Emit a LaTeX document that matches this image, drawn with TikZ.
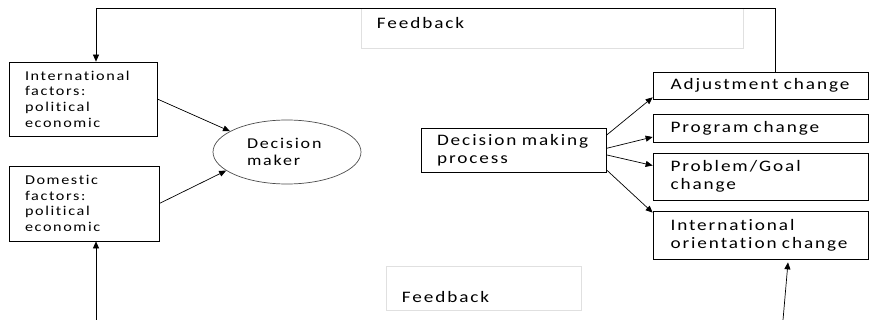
\documentclass[tikz,border=0pt]{standalone}
\usepackage{fontspec}
\setmainfont{Carlito}[FakeStretch=1.2,LetterSpace=12,Ligatures=NoCommon]
\usetikzlibrary{calc,arrows.meta,shapes.geometric}
\tikzset{font=\fontsize{16}{18.3}\selectfont}

\begin{document}
\begin{tikzpicture}[x=1pt,y=-1pt]
	\useasboundingbox (0,0) rectangle (869,320);
	\begin{scope}
		\tikzstyle{every node}=[align=left, inner xsep=16pt, inner ysep=0pt]
		\tikzstyle{box}=[draw, line width=0.7pt]
		\tikzstyle{small}=[font=\fontsize{13.5}{15.7}\selectfont]
		\tikzstyle{fb}=[draw=black!12, line width=0.6pt]
		\tikzstyle{arr}=[-{Triangle[length=7pt,width=6pt]}, line width=0.7pt]

		% feedback labels
		\node[fb, minimum width=382, minimum height=40,
			label={[anchor=base west, inner sep=0pt, xshift=16pt, yshift=-20.5pt]north west:Feedback}] (fbtop) at (552,28) {};
		\node[fb, minimum width=195, minimum height=44,
			label={[anchor=base west, inner sep=0pt, xshift=16pt, yshift=8pt]south west:Feedback}] (fbbot) at (483.5,288) {};

		\node[box, small, minimum width=148, minimum height=74, text width=116] (intl) at (83,99) {International\\factors:\\political\\economic};
		\node[box, small, minimum width=150, minimum height=75, text width=118] (dom) at (84,203.5) {Domestic\\factors:\\political\\economic};
		\node[draw=black!70, ellipse, line width=0.7pt, inner sep=0pt, minimum width=148, minimum height=64, text width=80,
			font=\fontsize{15}{17}\selectfont] (dm) at (287,152) {Decision\\maker};
		\node[box, minimum width=185, minimum height=44, text width=153] (dmp) at (513.5,150) {Decision~making\\process};

		\node[box, minimum width=215, minimum height=27, text width=180, inner xsep=17.5pt] (adj) at (760.5,85.5) {Adjustment~change};
		\node[box, minimum width=215, minimum height=28, text width=180, inner xsep=17.5pt] (prog) at (760.5,128) {Program~change};
		\node[box, minimum width=215, minimum height=47, text width=180, inner xsep=17.5pt] (prob) at (760.5,176.5) {Problem/Goal\\change};
		\node[box, minimum width=215, minimum height=48, text width=180, inner xsep=17.5pt] (orient) at (760.5,235) {International\\orientation~change};

		\draw[arr] (intl.east) -- (dm.160);
		\draw[arr] (dom.east) -- (dm.197);
		\draw[arr] (dmp.9) -- ([yshift=2pt]adj.south west);
		\draw[arr] (dmp.1) -- ([yshift=-9pt]prog.west);
		\draw[arr] (dmp.-3) -- ([yshift=11pt]prob.west);
		\draw[arr] (dmp.-12) -- ([yshift=-2pt]orient.north west);

		% feedback loop
		\coordinate (topL) at (96,8);
		\coordinate (topR) at (775,8);
		\coordinate (botL) at (96,320);
		\coordinate (botR) at (783,320);
		\draw[arr] (adj.north -| topR) -- (topR) -- (topL) -- (topL |- intl.north);
		\draw[arr] (botL) -- (botL |- dom.south);
		\draw[arr] (botR) -- ($(orient.south)+(27.5,3)$);
	\end{scope}
\end{tikzpicture}
\end{document}
